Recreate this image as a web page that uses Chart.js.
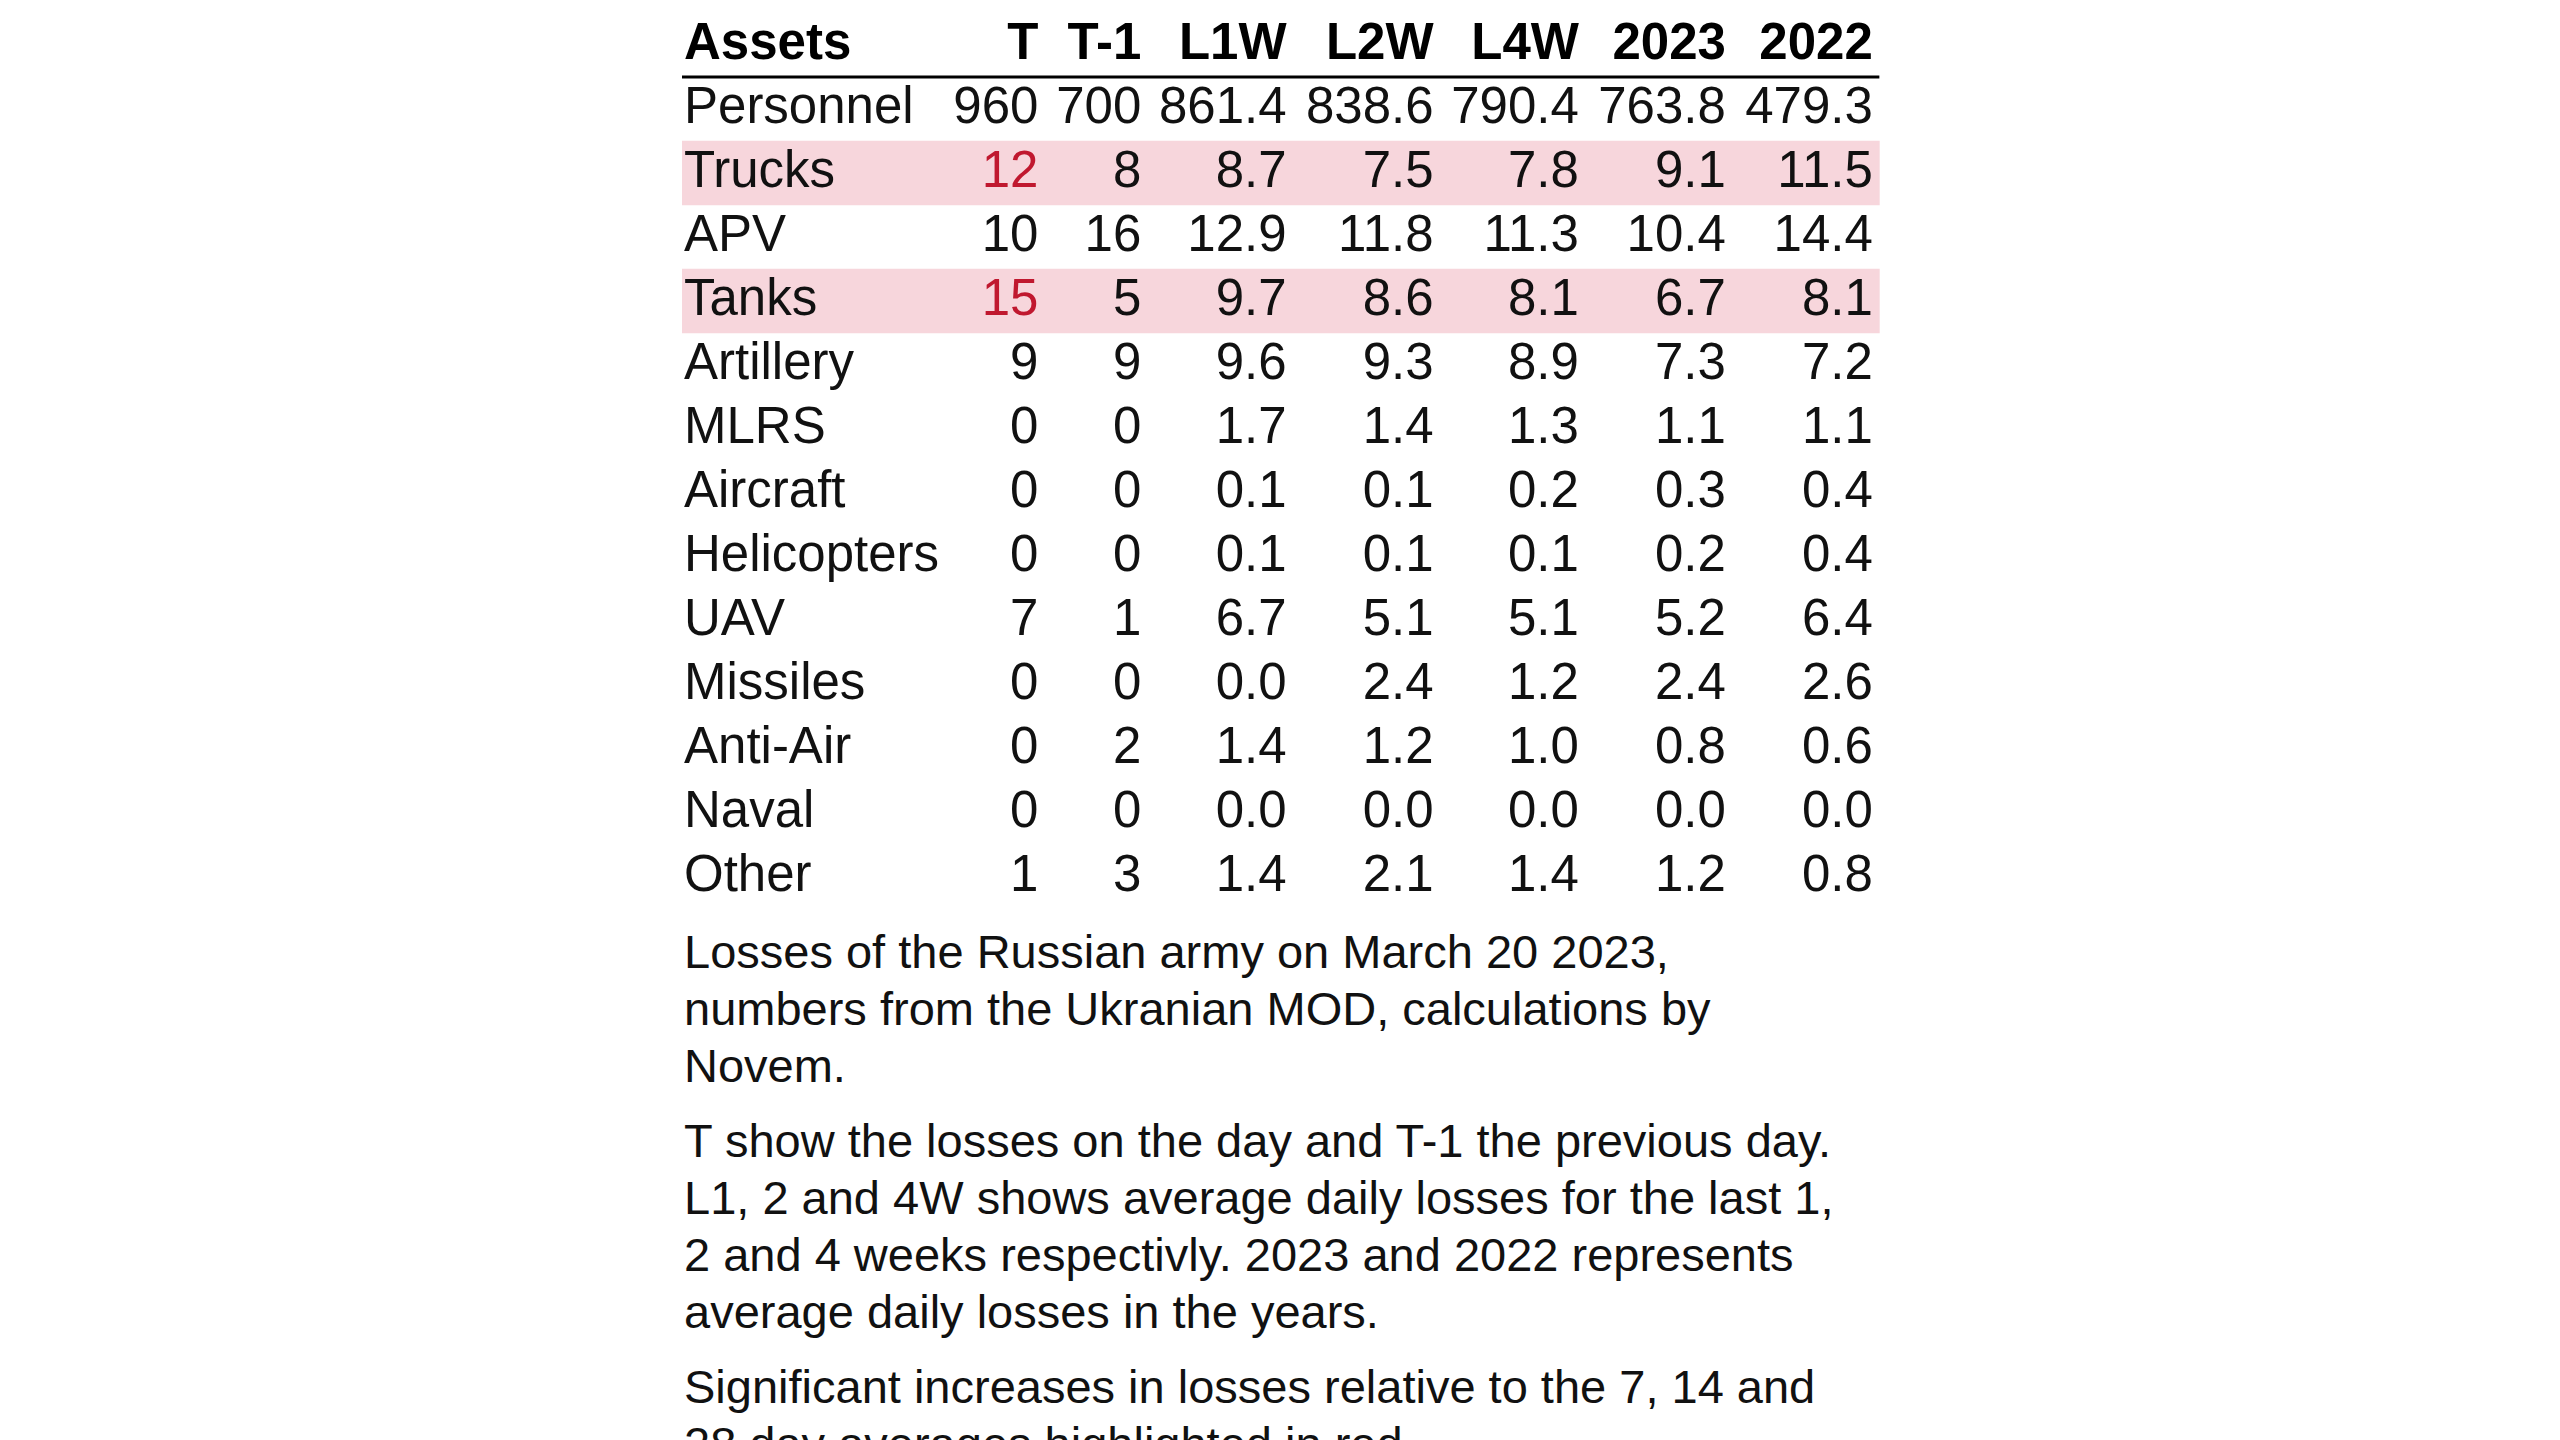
<!DOCTYPE html>
<html>
<head>
<meta charset="utf-8">
<script src="https://cdn.jsdelivr.net/npm/chart.js@4/dist/chart.umd.min.js"></script>
<style>
  html, body { margin: 0; background: #fff; width: 2560px; height: 1440px; overflow: hidden; }
  #wrap { position: absolute; left: 682px; top: 13px; width: 1200px; height: 896px; }
  #notes { position: absolute; left: 684px; top: 923px; width: 1300px; white-space: nowrap;
    font-family: "Liberation Sans", Arial, sans-serif; font-size: 47px; line-height: 57px; color: #111; }
  #notes p { margin: 0 0 18px 0; }
</style>
</head>
<body>
<div id="wrap"><canvas id="tbl"></canvas></div>
<div id="notes">
  <p>Losses of the Russian army on March 20 2023,<br>numbers from the Ukranian MOD, calculations by<br>Novem.</p>
  <p>T show the losses on the day and T-1 the previous day.<br>L1, 2 and 4W shows average daily losses for the last 1,<br>2 and 4 weeks respectivly. 2023 and 2022 represents<br>average daily losses in the years.</p>
  <p>Significant increases in losses relative to the 7, 14 and<br>28 day averages highlighted in red.</p>
</div>
<script>
// Table data
const columns = ["Assets", "T", "T-1", "L1W", "L2W", "L4W", "2023", "2022"];
const assets = ["Personnel", "Trucks", "APV", "Tanks", "Artillery", "MLRS", "Aircraft",
  "Helicopters", "UAV", "Missiles", "Anti-Air", "Naval", "Other"];
const lossT = ["960", "12", "10", "15", "9", "0", "0", "0", "7", "0", "0", "0", "1"];
const lossT1 = ["700", "8", "16", "5", "9", "0", "0", "0", "1", "0", "2", "0", "3"];
const avgL1W = ["861.4", "8.7", "12.9", "9.7", "9.6", "1.7", "0.1", "0.1", "6.7", "0.0", "1.4", "0.0", "1.4"];
const avgL2W = ["838.6", "7.5", "11.8", "8.6", "9.3", "1.4", "0.1", "0.1", "5.1", "2.4", "1.2", "0.0", "2.1"];
const avgL4W = ["790.4", "7.8", "11.3", "8.1", "8.9", "1.3", "0.2", "0.1", "5.1", "1.2", "1.0", "0.0", "1.4"];
const avg2023 = ["763.8", "9.1", "10.4", "6.7", "7.3", "1.1", "0.3", "0.2", "5.2", "2.4", "0.8", "0.0", "1.2"];
const avg2022 = ["479.3", "11.5", "14.4", "8.1", "7.2", "1.1", "0.4", "0.4", "6.4", "2.6", "0.6", "0.0", "0.8"];
const highlighted = ["Trucks", "Tanks"];

const valueCols = [lossT, lossT1, avgL1W, avgL2W, avgL4W, avg2023, avg2022];

// layout: right edge of each value column on the x scale (0..1200)
const colRight = [0, 636, 699, 788, 878, 967, 1057, 1147].map(v => (v - 419) * 1.633 + 2);
const tableRight = (1151 - 419) * 1.633 + 2;

const rows = ["__head"].concat(assets);
const FONT = '"Liberation Sans", Arial, sans-serif';
const RED = "#c0182f";

const textPlugin = {
  id: "tableText",
  afterDatasetsDraw(chart) {
    const c = chart.ctx;
    const x = chart.scales.x, y = chart.scales.y;
    c.save();
    c.textBaseline = "middle";
    // header
    c.font = "bold 51px " + FONT;
    c.fillStyle = "#000";
    columns.forEach((col, i) => {
      const yy = y.getPixelForValue(0);
      if (i === 0) { c.textAlign = "left"; c.fillText(col, x.getPixelForValue(2), yy); }
      else { c.textAlign = "right"; c.fillText(col, x.getPixelForValue(colRight[i]), yy); }
    });
    // header rule
    const ly = (y.getPixelForValue(0) + y.getPixelForValue(1)) / 2;
    c.strokeStyle = "#000";
    c.lineWidth = 3;
    c.beginPath();
    c.moveTo(x.getPixelForValue(0), ly);
    c.lineTo(x.getPixelForValue(tableRight), ly);
    c.stroke();
    // body
    c.font = "51px " + FONT;
    assets.forEach((name, r) => {
      const yy = y.getPixelForValue(r + 1);
      c.fillStyle = "#111";
      c.textAlign = "left";
      c.fillText(name, x.getPixelForValue(2), yy);
      c.textAlign = "right";
      valueCols.forEach((col, j) => {
        c.fillStyle = (j === 0 && highlighted.includes(name)) ? RED : "#111";
        c.fillText(col[r], x.getPixelForValue(colRight[j + 1]), yy);
      });
    });
    c.restore();
  }
};

new Chart(document.getElementById("tbl"), {
  type: "bar",
  data: {
    labels: rows,
    datasets: [{
      data: rows.map(r => highlighted.includes(r) ? [0, tableRight] : null),
      backgroundColor: "#f7d6dc",
      borderWidth: 0,
      barPercentage: 1,
      categoryPercentage: 1
    }]
  },
  options: {
    indexAxis: "y",
    responsive: true,
    maintainAspectRatio: false,
    animation: false,
    layout: { padding: 0 },
    plugins: { legend: { display: false }, tooltip: { enabled: false } },
    scales: {
      x: { type: "linear", min: 0, max: 1200, display: false },
      y: { type: "category", display: false, offset: true }
    }
  },
  plugins: [textPlugin]
});
</script>
</body>
</html>
